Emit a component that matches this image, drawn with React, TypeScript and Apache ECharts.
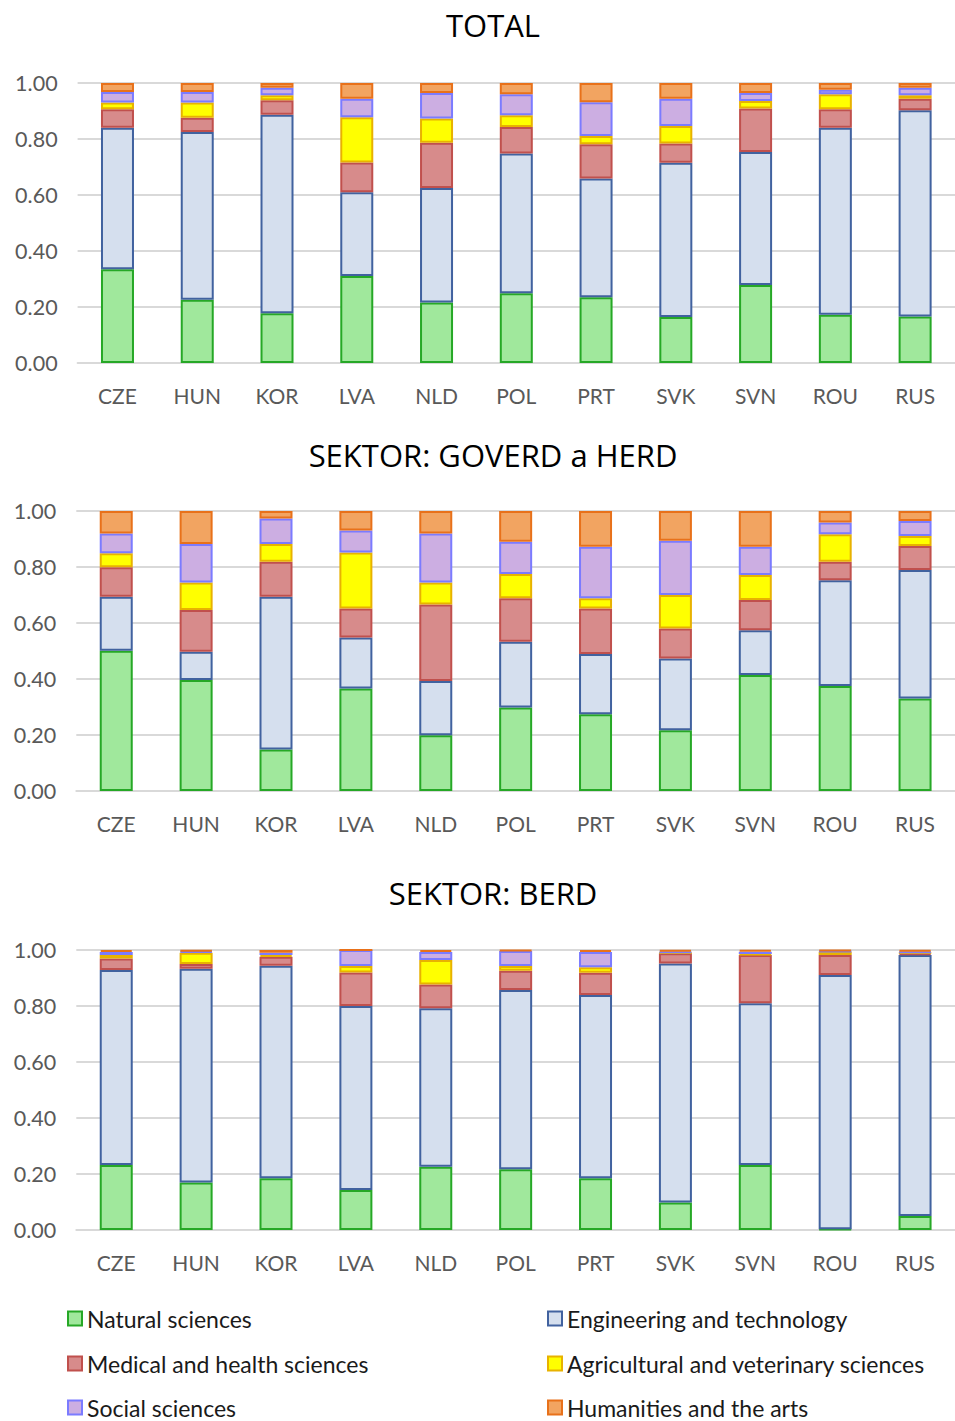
import React, { useEffect, useRef } from "react";
import * as echarts from "echarts";

// Countries on the category axis
const countries = ["CZE", "HUN", "KOR", "LVA", "NLD", "POL", "PRT", "SVK", "SVN", "ROU", "RUS"];

// Fields of science, stacked from the bottom up
const fields = [
  "Natural sciences",
  "Engineering and technology",
  "Medical and health sciences",
  "Agricultural and veterinary sciences",
  "Social sciences",
  "Humanities and the arts",
];

// Y-axis ticks
const yTicks = [0, 0.2, 0.4, 0.6, 0.8, 1.0];

// Panel titles
const panelTitles = ["TOTAL", "SEKTOR: GOVERD a HERD", "SEKTOR: BERD"];

// Shares per field (rows follow `fields`, columns follow `countries`)
const totalShares: number[][] = [
  [0.335, 0.226, 0.178, 0.311, 0.216, 0.249, 0.235, 0.164, 0.279, 0.172, 0.166],
  [0.505, 0.599, 0.709, 0.299, 0.409, 0.499, 0.424, 0.551, 0.475, 0.668, 0.737],
  [0.066, 0.051, 0.051, 0.106, 0.162, 0.095, 0.122, 0.069, 0.155, 0.066, 0.041],
  [0.024, 0.054, 0.018, 0.162, 0.086, 0.042, 0.030, 0.062, 0.027, 0.054, 0.012],
  [0.038, 0.038, 0.027, 0.066, 0.091, 0.075, 0.120, 0.098, 0.028, 0.016, 0.027],
  [0.032, 0.032, 0.017, 0.056, 0.036, 0.040, 0.069, 0.056, 0.036, 0.024, 0.017],
];

const goverdHerdShares: number[][] = [
  [0.501, 0.396, 0.148, 0.366, 0.199, 0.298, 0.274, 0.217, 0.414, 0.375, 0.330],
  [0.193, 0.101, 0.546, 0.182, 0.194, 0.235, 0.215, 0.256, 0.160, 0.378, 0.459],
  [0.105, 0.149, 0.125, 0.104, 0.273, 0.155, 0.163, 0.107, 0.108, 0.066, 0.086],
  [0.050, 0.099, 0.063, 0.200, 0.079, 0.087, 0.036, 0.120, 0.089, 0.098, 0.036],
  [0.071, 0.137, 0.091, 0.078, 0.175, 0.115, 0.184, 0.194, 0.101, 0.042, 0.053],
  [0.080, 0.118, 0.027, 0.070, 0.080, 0.110, 0.128, 0.106, 0.128, 0.041, 0.036],
];

const berdShares: number[][] = [
  [0.232, 0.170, 0.185, 0.143, 0.226, 0.217, 0.185, 0.098, 0.232, 0.003, 0.050],
  [0.697, 0.763, 0.759, 0.657, 0.566, 0.640, 0.654, 0.854, 0.578, 0.908, 0.932],
  [0.041, 0.017, 0.032, 0.120, 0.085, 0.069, 0.080, 0.036, 0.172, 0.071, 0.006],
  [0.012, 0.040, 0.006, 0.023, 0.087, 0.017, 0.019, 0.002, 0.004, 0.012, 0.002],
  [0.011, 0.005, 0.008, 0.057, 0.029, 0.053, 0.055, 0.004, 0.008, 0.002, 0.004],
  [0.007, 0.005, 0.010, 0.000, 0.007, 0.004, 0.007, 0.006, 0.006, 0.004, 0.006],
];

const panels = [totalShares, goverdHerdShares, berdShares];

const fillColors = ["#A0E89C", "#D5DFEE", "#D78B8B", "#FFFF00", "#CCAEE2", "#F2A461"];
const strokeColors = ["#26A826", "#41629F", "#C0504D", "#E8B200", "#7B7BFF", "#E8711A"];

const FONT = "Lato, 'Open Sans', sans-serif";
const TITLE_FONT = "'Open Sans', Lato, sans-serif";
const AXIS_GREY = "#595959";
const GRID_GREY = "#D9D9D9";

// Panel geometry
const gridTops = [83, 511, 950];
const gridLefts = [77.6, 76.3, 76.3];
const titleCentersY = [25, 455, 893];
const PLOT_HEIGHT = 280;

// Legend placement: two columns of three rows
const legendColumnsX = [67, 547];
const legendRowsY = [1318, 1363, 1407];
const legendLayout = [
  [0, 0], // Natural
  [1, 0], // Engineering
  [0, 1], // Medical
  [1, 1], // Agricultural
  [0, 2], // Social
  [1, 2], // Humanities
];

export default function App() {
  const ref = useRef<HTMLDivElement>(null);

  useEffect(() => {
    if (!ref.current) return;
    const chart = echarts.init(ref.current, undefined, { renderer: "svg" });

    const grids = panels.map((_, i) => ({
      left: gridLefts[i],
      right: -11,
      top: gridTops[i],
      height: PLOT_HEIGHT,
      containLabel: false,
    }));

    const xAxes = panels.map((_, i) => ({
      type: "category",
      gridIndex: i,
      data: countries,
      axisTick: { show: false },
      axisLine: { show: true, lineStyle: { color: GRID_GREY, width: 2 } },
      axisLabel: { color: AXIS_GREY, fontSize: 21, fontFamily: FONT, margin: 22 },
    }));

    const yAxes = panels.map((_, i) => ({
      type: "value",
      gridIndex: i,
      min: yTicks[0],
      max: yTicks[yTicks.length - 1],
      interval: yTicks[1] - yTicks[0],
      axisLine: { show: false },
      axisTick: { show: false },
      splitLine: { show: true, lineStyle: { color: GRID_GREY, width: 2 } },
      axisLabel: {
        color: AXIS_GREY,
        fontSize: 21.5,
        fontFamily: FONT,
        margin: 20,
        formatter: (v: number) => v.toFixed(2),
      },
    }));

    const series: any[] = [];
    panels.forEach((rows, p) => {
      rows.forEach((values, f) => {
        series.push({
          name: fields[f],
          type: "bar",
          stack: "panel" + p,
          xAxisIndex: p,
          yAxisIndex: p,
          barWidth: 33,
          data: values,
          itemStyle: {
            color: fillColors[f],
            borderColor: strokeColors[f],
            borderWidth: 2,
          },
          emphasis: { disabled: true },
        });
      });
    });

    const legends = fields.map((name, f) => ({
      orient: "horizontal",
      icon: "rect",
      itemWidth: 14,
      itemHeight: 14,
      selectedMode: false,
      left: legendColumnsX[legendLayout[f][0]],
      top: legendRowsY[legendLayout[f][1]] - 11,
      padding: 0,
      data: [name],
      textStyle: { color: "#1a1a1a", fontSize: 23, fontFamily: FONT, lineHeight: 22 },
    }));

    chart.setOption({
      animation: false,
      backgroundColor: "#ffffff",
      grid: grids,
      xAxis: xAxes,
      yAxis: yAxes,
      series,
      legend: legends,
      graphic: panelTitles.map((t, i) => ({
        type: "text",
        x: 493,
        y: titleCentersY[i],
        style: {
          text: t,
          fill: "#000000",
          font: `31px ${TITLE_FONT}`,
          textAlign: "center",
          textVerticalAlign: "middle",
        },
      })),
    });

    return () => chart.dispose();
  }, []);

  return (
    <div
      ref={ref}
      style={{ position: "absolute", left: 0, top: 0, width: 955, height: 1421 }}
    />
  );
}
